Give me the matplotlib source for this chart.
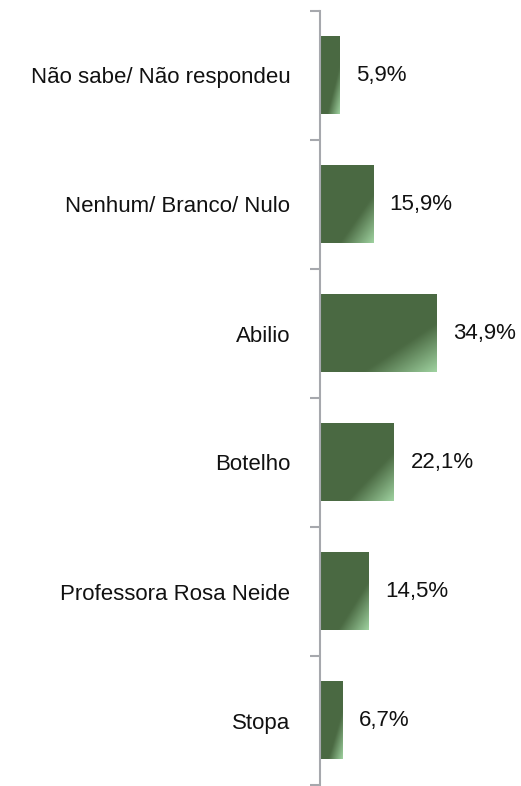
import numpy as np
import matplotlib
matplotlib.use("Agg")
import matplotlib.pyplot as plt
from matplotlib.colors import LinearSegmentedColormap

categories = ["Não sabe/ Não respondeu", "Nenhum/ Branco/ Nulo", "Abilio",
              "Botelho", "Professora Rosa Neide", "Stopa"]
values = [5.9, 15.9, 34.9, 22.1, 14.5, 6.7]
labels = ["5,9%", "15,9%", "34,9%", "22,1%", "14,5%", "6,7%"]

plt.rcParams['font.family'] = ['Liberation Sans', 'DejaVu Sans']

W, H = 521, 786
fig = plt.figure(figsize=(W / 100, H / 100), dpi=100)
x0 = 319.5
ax = fig.add_axes([x0 / W, 1 / H, 1 - x0 / W, (785 - 11) / H])
xmax = (W - x0) / 3.345
n = len(categories)

cmap = LinearSegmentedColormap.from_list(
    "g", [(0, "#4a6942"), (0.69, "#4b6a43"), (1.0, "#9fd2a0")])
bh = 0.6
res = 200
uu, vv = np.meshgrid(np.linspace(0, 1, res), np.linspace(0, 1, res))
grad = (uu + vv) / 2.0
fs = 16
for i, v in enumerate(values):
    ax.imshow(grad, cmap=cmap, vmin=0, vmax=1, aspect='auto',
              extent=(0, v, i - bh / 2, i + bh / 2), origin='lower',
              interpolation='bilinear', zorder=2)
    ax.annotate(labels[i], xy=(v, i), xytext=(17, 0), textcoords='offset pixels',
                va='center', ha='left', fontsize=fs, color='#111111')

ax.set_xlim(0, xmax)
ax.set_ylim(n - 0.5, -0.5)
ax.set_yticks(range(n))
ax.set_yticklabels(categories, fontsize=fs, color='#111111')
ax.set_yticks(np.arange(-0.5, n, 1.0), minor=True)
ax.tick_params(axis='y', which='major', length=0, pad=21)
ax.tick_params(axis='y', which='minor', length=7, width=1.5, color='#a6a8ad', direction='out')
ax.set_xticks([])
for s in ['top', 'right', 'bottom']:
    ax.spines[s].set_visible(False)
ax.spines['left'].set_color('#a6a8ad')
ax.spines['left'].set_linewidth(1.5)
ax.patch.set_alpha(0)

fig.savefig("out.png", dpi=100)
